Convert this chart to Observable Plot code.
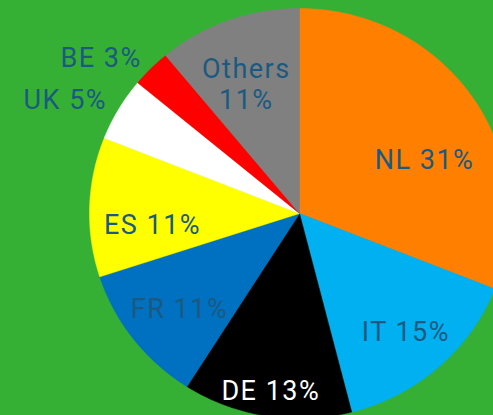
<!DOCTYPE html>
<html>
<head>
<meta charset="utf-8">
<script src="https://cdn.jsdelivr.net/npm/d3@7"></script>
<script src="https://cdn.jsdelivr.net/npm/@observablehq/plot@0.6"></script>
<style>
  html, body { margin: 0; padding: 0; background: #35B035; }
  #chart { width: 493px; height: 415px; overflow: hidden; }
</style>
</head>
<body>
<div id="chart"></div>
<script>
// Data
const countries = ["NL", "IT", "DE", "FR", "ES", "UK", "BE", "Others"];
const shares = [31, 15, 13, 11, 11, 5, 3, 11];
const colors = ["#FF7F00", "#00B0F0", "#000000", "#0070C0", "#FFFF00", "#FFFFFF", "#FF0000", "#808080"];
// Label layout (radius fraction of pie, angle nudge in degrees)
const labelRadius = [0.653, 0.766, 0.873, 0.733, 0.702, 1.247, 1.216, 0.682];
const labelNudge = [10, 0, 0, -1, -6, -4, -6, -2];
const labelColors = ["#1B5A80", "#1B5A80", "#FFFFFF", "#1B5A80", "#1B5A80", "#1B5A80", "#1B5A80", "#1B5A80"];

const W = 493, H = 415;
const cx = 299, cy = 213, rx = 210, ry = 205;

const arcs = d3.pie().sort(null).value(d => d)(shares);

const slicePts = [];
arcs.forEach((a, i) => {
  slicePts.push({name: countries[i], color: colors[i], x: 0, y: 0});
  const n = Math.max(2, Math.ceil((a.endAngle - a.startAngle) / (Math.PI / 360)));
  for (let k = 0; k <= n; k++) {
    const t = a.startAngle + (a.endAngle - a.startAngle) * k / n;
    slicePts.push({name: countries[i], color: colors[i], x: Math.sin(t), y: Math.cos(t)});
  }
  slicePts.push({name: countries[i], color: colors[i], x: 0, y: 0});
});

const labels = arcs.map((a, i) => {
  const mid = (a.startAngle + a.endAngle) / 2 + labelNudge[i] * Math.PI / 180;
  const txt = countries[i] === "Others" ? `Others\n${shares[i]}%` : `${countries[i]} ${shares[i]}%`;
  return {text: txt, x: Math.sin(mid) * labelRadius[i], y: Math.cos(mid) * labelRadius[i], color: labelColors[i]};
});

const plot = Plot.plot({
  width: W,
  height: H,
  margin: 0,
  style: {background: "#35B035", overflow: "hidden"},
  x: {domain: [-cx / rx, (W - cx) / rx], axis: null},
  y: {domain: [-(H - cy) / ry, cy / ry], axis: null},
  marks: [
    Plot.line(slicePts, {x: "x", y: "y", z: "name", fill: "color", stroke: "color", strokeWidth: 0.5, curve: "linear"}),
    Plot.text(labels, {
      x: "x", y: "y", text: "text", fill: "color",
      fontSize: 27, fontFamily: "Roboto", fontWeight: 400, lineHeight: 1.15,
      textAnchor: "middle"
    })
  ]
});
plot.style.letterSpacing = "1.5px";
document.getElementById("chart").appendChild(plot);
</script>
</body>
</html>
